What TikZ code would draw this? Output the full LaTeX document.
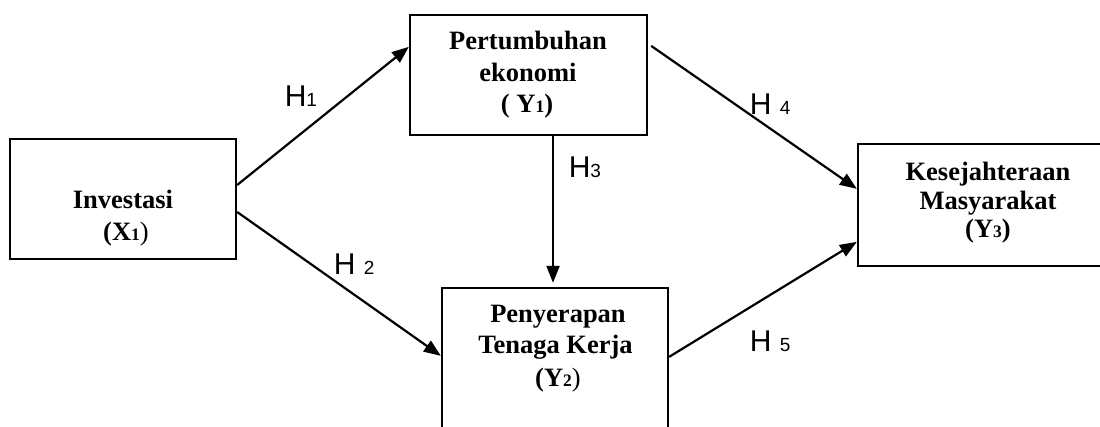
\documentclass[tikz,border=0pt]{standalone}
\usepackage{fontspec}
\setmainfont{Liberation Serif}
\newfontfamily\labelfont{Liberation Sans}
\usetikzlibrary{arrows.meta,calc}
\newcommand{\sdig}[1]{{\fontsize{17.5}{20}\selectfont #1}}
\newcommand{\ldig}[1]{{\fontsize{19}{20}\selectfont #1}}
\begin{document}
\begin{tikzpicture}[x=1pt,y=-1pt,
  box/.style={draw, line width=2.3pt, inner sep=0pt},
  bt/.style={font=\bfseries\fontsize{26.5}{30}\selectfont, anchor=base, inner sep=0pt},
  hl/.style={font=\labelfont\fontsize{30}{34}\selectfont, anchor=base west, inner sep=0pt},
  arr/.style={line width=2.2pt, -{Triangle[length=17pt,width=13pt]}}]
\useasboundingbox (0,0) rectangle (1100,427);
\fill[white] (0,0) rectangle (1100,427);
\clip (0,0) rectangle (1100,427);
% boxes
\node[box, minimum width=226pt, minimum height=120pt] (inv) at (123,199) {};
\node[box, minimum width=237pt, minimum height=120pt] (pert) at (528.5,75) {};
\node[box, minimum width=226pt, minimum height=160pt] (peny) at (555,368) {};
\node[box, minimum width=252pt, minimum height=122pt] (kes) at (984,205) {};
% box texts
\node[bt] (t1a) at (123,209) {Investasi};
\node[bt] (t1b) at (126,241) {(X\sdig{1}{\mdseries)}};
\node[bt] (t2a) at (528,50) {Pertumbuhan};
\node[bt] (t2b) at (528,82) {ekonomi};
\node[bt] (t2c) at (527,113) {( Y\sdig{1})};
\node[bt] (t3a) at (558,323) {Penyerapan};
\node[bt] (t3b) at (555.5,354) {Tenaga Kerja};
\node[bt] (t3c) at (558,387) {(Y\sdig{2}{\mdseries)}};
\node[bt] (t4a) at (988,181) {Kesejahteraan};
\node[bt] (t4b) at (988,210) {Masyarakat};
\node[bt] (t4c) at (988,238) {(Y\sdig{3})};
% connector end points
\coordinate (h1s) at ([yshift=14pt]inv.east);
\coordinate (h1e) at ([yshift=-33pt]pert.north west);
\coordinate (h2s) at ([yshift=-13pt]inv.east);
\coordinate (h2e) at ([yshift=-69pt]peny.north west);
\coordinate (h3s) at ([xshift=24.5pt]pert.south);
\coordinate (h3e) at (h3s |- peny.north);
\coordinate (h4s) at ([xshift=3pt,yshift=-32pt]pert.north east);
\coordinate (h4e) at ([yshift=-46pt]kes.north west);
\coordinate (h5s) at ([yshift=-70pt]peny.north east);
\coordinate (h5e) at ([yshift=-99pt]kes.north west);
% connectors
\draw[arr] (h1s) -- (h1e);
\draw[arr] (h2s) -- (h2e);
\draw[arr, shorten >=4pt] (h3s) -- (h3e);
\draw[arr] (h4s) -- (h4e);
\draw[arr] (h5s) -- (h5e);
% labels
\node[hl] (l1) at (284.6,107) {H\ldig{1}};
\node[hl] (l2) at (333.6,275) {H \ldig{2}};
\node[hl] (l3) at (568.6,178) {H\ldig{3}};
\node[hl] (l4) at (749.6,115) {H \ldig{4}};
\node[hl] (l5) at (749.6,352) {H \ldig{5}};
\end{tikzpicture}
\end{document}
